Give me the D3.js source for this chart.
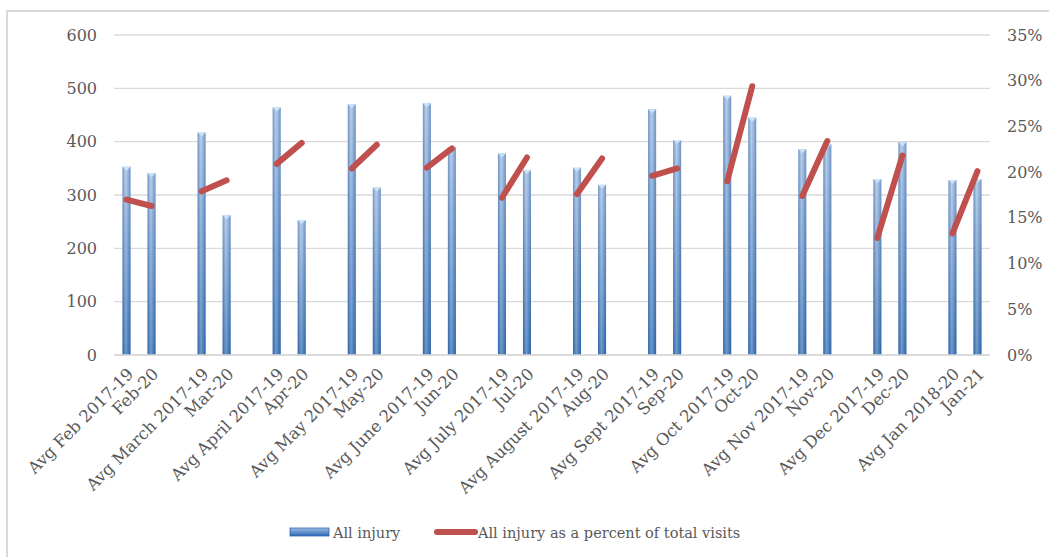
<!DOCTYPE html>
<html>
<head>
<meta charset="utf-8">
<script src="https://cdn.jsdelivr.net/npm/d3@7"></script>
<style>
  body { margin: 0; background: #fff; }
  text { font-family: "DejaVu Serif", serif; fill: #595959; }
</style>
</head>
<body>
<svg width="1049" height="557"></svg>
<script>
var avgLabels = ["Avg Feb 2017-19", "Avg March 2017-19", "Avg April 2017-19", "Avg May 2017-19",
  "Avg June 2017-19", "Avg July 2017-19", "Avg August 2017-19", "Avg Sept 2017-19",
  "Avg Oct 2017-19", "Avg Nov 2017-19", "Avg Dec 2017-19", "Avg Jan 2018-20"];
var monthLabels = ["Feb-20", "Mar-20", "Apr-20", "May-20", "Jun-20", "Jul-20",
  "Aug-20", "Sep-20", "Oct-20", "Nov-20", "Dec-20", "Jan-21"];
var avgInjury = [353, 417, 464, 470, 472, 378, 351, 461, 486, 386, 330, 328];
var monthInjury = [341, 262, 253, 314, 390, 347, 319, 403, 445, 395, 399, 330];
var avgPct = [0.170, 0.179, 0.209, 0.204, 0.205, 0.172, 0.176, 0.196, 0.190, 0.174, 0.128, 0.133];
var monthPct = [0.163, 0.191, 0.232, 0.230, 0.226, 0.216, 0.215, 0.204, 0.294, 0.234, 0.218, 0.201];
var leftTicks = [0, 100, 200, 300, 400, 500, 600];
var rightTicks = [0, 0.05, 0.10, 0.15, 0.20, 0.25, 0.30, 0.35];

var svg = d3.select("svg");
var margin = {left: 114, right: 59, top: 35, bottom: 202};
var width = 1049 - margin.left - margin.right,
    height = 557 - margin.top - margin.bottom;

// border (cropped on right/bottom like the original)
svg.append("rect")
  .attr("x", 7).attr("y", 11)
  .attr("width", 1100).attr("height", 600)
  .attr("fill", "none").attr("stroke", "#d9d9d9").attr("stroke-width", 2);

var defs = svg.append("defs");
var gv = defs.append("linearGradient").attr("id", "barV")
  .attr("x1", 0).attr("y1", 0).attr("x2", 0).attr("y2", 1);
gv.append("stop").attr("offset", "0%").attr("stop-color", "#9dbbe3");
gv.append("stop").attr("offset", "100%").attr("stop-color", "#2c69b2");
var gh = defs.append("linearGradient").attr("id", "barH")
  .attr("x1", 0).attr("y1", 0).attr("x2", 1).attr("y2", 0);
gh.append("stop").attr("offset", "0%").attr("stop-color", "#1f4f8a").attr("stop-opacity", 0.35);
gh.append("stop").attr("offset", "40%").attr("stop-color", "#ffffff").attr("stop-opacity", 0.3);
gh.append("stop").attr("offset", "100%").attr("stop-color", "#1f4f8a").attr("stop-opacity", 0.35);

// build the category list: avg, month, blank gap
var cats = [];
avgLabels.forEach(function(a, i) {
  cats.push({key: "a" + i, label: a, value: avgInjury[i], pct: avgPct[i], pair: i});
  cats.push({key: "m" + i, label: monthLabels[i], value: monthInjury[i], pct: monthPct[i], pair: i});
  if (i < avgLabels.length - 1) cats.push({key: "g" + i, label: "", value: null, pair: i});
});

var g = svg.append("g").attr("transform", "translate(" + margin.left + "," + margin.top + ")");

var x = d3.scaleBand().domain(cats.map(function(d) { return d.key; }))
  .range([0, width]).paddingInner(0.68).paddingOuter(0.34);
var y = d3.scaleLinear().domain([0, 600]).range([height, 0]);
var y2 = d3.scaleLinear().domain([0, 0.35]).range([height, 0]);

// gridlines
g.append("g").selectAll("line").data(leftTicks).enter().append("line")
  .attr("x1", 0).attr("x2", width)
  .attr("y1", function(d) { return y(d); }).attr("y2", function(d) { return y(d); })
  .attr("stroke", "#d9d9d9").attr("stroke-width", 1.3);

// left axis
var ya = g.append("g").call(d3.axisLeft(y).tickValues(leftTicks).tickSize(0).tickPadding(17));
ya.select(".domain").remove();
ya.selectAll("text").style("font-size", "16px").attr("fill", "#595959").attr("font-family", "DejaVu Serif");

// right axis
var yb = g.append("g").attr("transform", "translate(" + width + ",0)")
  .call(d3.axisRight(y2).tickValues(rightTicks).tickSize(0).tickPadding(17).tickFormat(d3.format(".0%")));
yb.select(".domain").remove();
yb.selectAll("text").style("font-size", "16px").attr("fill", "#595959").attr("font-family", "DejaVu Serif");

// bars
var bars = cats.filter(function(d) { return d.value != null; });
var bw = x.bandwidth();
g.append("g").selectAll("rect").data(bars).enter().append("rect")
  .attr("x", function(d) { return x(d.key); })
  .attr("y", function(d) { return y(d.value); })
  .attr("width", bw)
  .attr("height", function(d) { return height - y(d.value); })
  .attr("fill", "url(#barV)");
g.append("g").selectAll("rect").data(bars).enter().append("rect")
  .attr("x", function(d) { return x(d.key); })
  .attr("y", function(d) { return y(d.value); })
  .attr("width", bw)
  .attr("height", function(d) { return height - y(d.value); })
  .attr("fill", "url(#barH)");
g.append("g").selectAll("path").data(bars).enter().append("path")
  .attr("d", function(d) {
    var x0 = x(d.key), y0 = y(d.value);
    return "M" + x0 + "," + y0 + "L" + (x0 + bw) + "," + y0 + "L" + (x0 + bw / 2) + "," + (y0 + 4) + "Z";
  })
  .attr("fill", "#c9e3f7");

// x axis line
g.append("line").attr("x1", 0).attr("x2", width).attr("y1", height).attr("y2", height)
  .attr("stroke", "#d9d9d9").attr("stroke-width", 1.5);

// percent segments, one per pair
var line = d3.line()
  .x(function(d) { return x(d.key) + bw / 2; })
  .y(function(d) { return y2(d.pct); });
var pairs = d3.range(avgLabels.length).map(function(i) {
  return [cats.find(function(c) { return c.key == "a" + i; }), cats.find(function(c) { return c.key == "m" + i; })];
});
g.append("g").selectAll("path").data(pairs).enter().append("path")
  .attr("d", line)
  .attr("fill", "none").attr("stroke", "#c0504d").attr("stroke-width", 6)
  .attr("stroke-linecap", "round");

// x labels
g.append("g").selectAll("text").data(cats.filter(function(d) { return d.label; })).enter().append("text")
  .attr("transform", function(d) {
    return "translate(" + (x(d.key) + bw / 2 + 8) + "," + (height + 20) + ") rotate(-45)";
  })
  .attr("text-anchor", "end")
  .style("font-size", "16.5px")
  .text(function(d) { return d.label; });

// legend
var lg = svg.append("g");
lg.append("rect").attr("x", 290).attr("y", 528).attr("width", 39).attr("height", 8).attr("fill", "url(#barV)")
  .attr("stroke", "#2c69b2").attr("stroke-width", 0.8);
lg.append("text").attr("x", 333).attr("y", 538).style("font-size", "14.5px").text("All injury");
lg.append("line").attr("x1", 437).attr("x2", 475).attr("y1", 532).attr("y2", 532)
  .attr("stroke", "#c0504d").attr("stroke-width", 6).attr("stroke-linecap", "round");
lg.append("text").attr("x", 478).attr("y", 538).style("font-size", "14.5px").text("All injury as a percent of total visits");
</script>
</body>
</html>
